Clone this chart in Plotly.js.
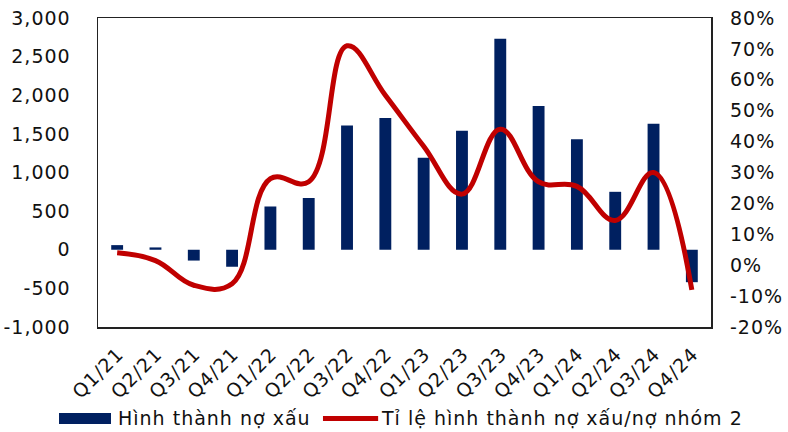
<!DOCTYPE html>
<html>
<head>
<meta charset="utf-8">
<script src="https://cdn.plot.ly/plotly-3.0.1.min.js"></script>
<style>html,body{margin:0;padding:0;background:#fff;}#chart{width:788px;height:432px;} svg text{letter-spacing:1px;}</style>
</head>
<body>
<div id="chart"></div>
<script>
var categories = ["Q1/21","Q2/21","Q3/21","Q4/21","Q1/22","Q2/22","Q3/22","Q4/22","Q1/23","Q2/23","Q3/23","Q4/23","Q1/24","Q2/24","Q3/24","Q4/24"];
var badDebt = [60, 30, -140, -220, 560, 670, 1610, 1705, 1190, 1540, 2730, 1860, 1430, 750, 1630, -420];
var ratioPct = [4, 1.5, -6.5, -6, 28, 27, 71, 55, 38.5, 23, 44, 27, 25.5, 14.5, 30, -8];
var leftTicks = [-1000, -500, 0, 500, 1000, 1500, 2000, 2500, 3000];
var leftTickText = ["-1,000", "-500", "0", "500", "1,000", "1,500", "2,000", "2,500", "3,000"];
var rightTicks = [-20, -10, 0, 10, 20, 30, 40, 50, 60, 70, 80];
var rightTickText = ["-20%", "-10%", "0%", "10%", "20%", "30%", "40%", "50%", "60%", "70%", "80%"];
var barName = "Hình thành nợ xấu";
var lineName = "Tỉ lệ hình thành nợ xấu/nợ nhóm 2";

var FONT = "DejaVu Sans, Liberation Sans, Arial, sans-serif";
var navy = "#002060", red = "#C00000";

var traces = [
  {type: "bar", x: categories, y: badDebt, name: barName, marker: {color: navy}, yaxis: "y", showlegend: false},
  {type: "scatter", mode: "lines", x: categories, y: ratioPct, name: lineName, yaxis: "y2",
   line: {color: red, width: 5, shape: "spline", smoothing: 1.15}, showlegend: false}
];

var layout = {
  width: 788, height: 432,
  margin: {l: 98, r: 77, t: 18, b: 105},
  paper_bgcolor: "#fff", plot_bgcolor: "#fff",
  font: {family: FONT, size: 19, color: "#111"},
  bargap: 0.69,
  showlegend: false,
  xaxis: {showline: true, mirror: true, linecolor: "#222", linewidth: 1.5,
          showgrid: false, zeroline: false, ticks: "", tickangle: -45,
          tickfont: {size: 19}, ticklabelshift: 1, ticklabelstandoff: 7},
  yaxis: {range: [-1000, 3000], tickvals: leftTicks, ticktext: leftTickText, showgrid: false,
          zeroline: false, showline: true, mirror: true, linecolor: "#222", linewidth: 1.5,
          ticks: "", ticklabelstandoff: 22},
  yaxis2: {range: [-20, 80], tickvals: rightTicks, ticktext: rightTickText, overlaying: "y", side: "right",
           showgrid: false, zeroline: false, showline: false, ticks: "", ticklabelstandoff: 18},
  shapes: [
    {type: "rect", xref: "paper", yref: "paper", x0: -0.0636, x1: 0.0212, y0: -0.314, y1: -0.278,
     fillcolor: navy, line: {width: 0}},
    {type: "line", xref: "paper", yref: "paper", x0: 0.367, x1: 0.457, y0: -0.296, y1: -0.296,
     line: {color: red, width: 5}}
  ],
  annotations: [
    {xref: "paper", yref: "paper", x: 0.029, y: -0.296, text: barName, showarrow: false,
     xanchor: "left", yanchor: "middle", font: {size: 19, color: "#111"}},
    {xref: "paper", yref: "paper", x: 0.458, y: -0.296, text: lineName, showarrow: false,
     xanchor: "left", yanchor: "middle", font: {size: 19, color: "#111"}}
  ]
};

Plotly.newPlot("chart", traces, layout, {staticPlot: true, displayModeBar: false});
</script>
</body>
</html>
